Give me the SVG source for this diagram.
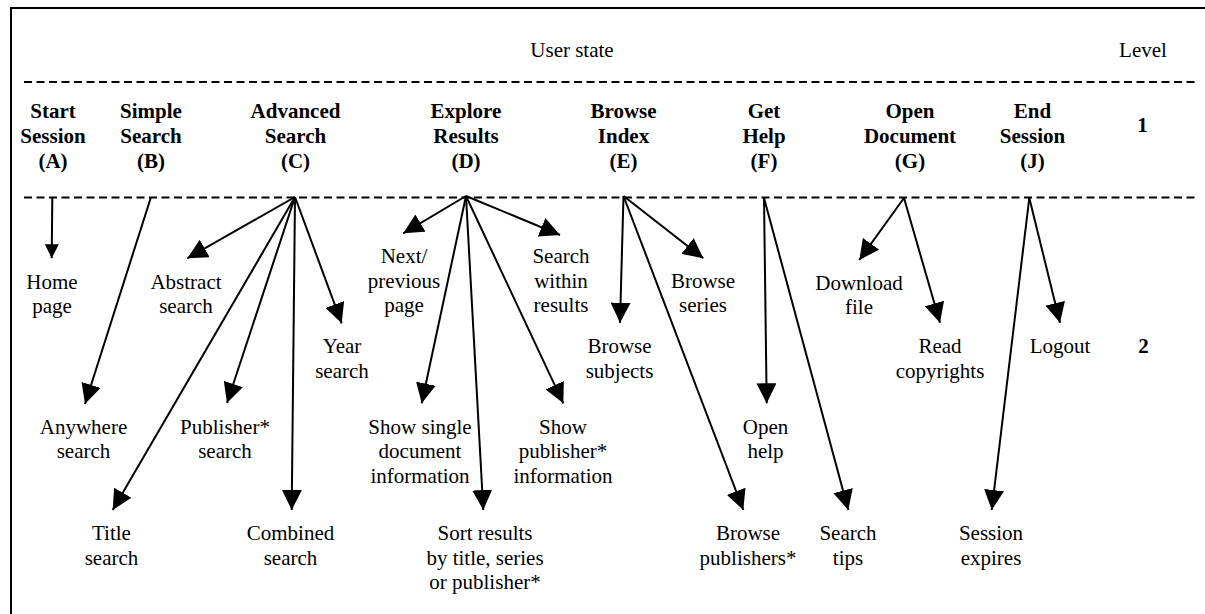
<svg xmlns="http://www.w3.org/2000/svg" width="1205" height="614" viewBox="0 0 1205 614">
<style>
text{font-family:'Liberation Serif','Tinos','DejaVu Serif','Times New Roman',Times,serif;font-size:21px;fill:#000;text-anchor:middle}
.b{font-weight:bold}
.frame{stroke:#000;stroke-width:2;fill:none}
.dash{stroke:#000;stroke-width:2;fill:none;stroke-dasharray:8 4.5}
.c line{stroke:#000;stroke-width:2;marker-end:url(#ah)}
.c line.s{marker-end:url(#ahs)}
</style>
<defs>
<marker id="ah" markerUnits="userSpaceOnUse" markerWidth="20" markerHeight="20" refX="20" refY="10" orient="auto">
<path d="M0,0 L20,10 L0,20 z" fill="#000"/>
</marker>
<marker id="ahs" markerUnits="userSpaceOnUse" markerWidth="14" markerHeight="14" refX="14" refY="7" orient="auto">
<path d="M0,0 L14,7 L0,14 z" fill="#000"/>
</marker>
</defs>
<rect width="1205" height="614" fill="#fff"/>
<g id="frame">
<path class="frame" d="M11,614 L11,8 L1205,8"/>
<line class="dash" x1="24" y1="82" x2="1197" y2="82"/>
<line class="dash" x1="24" y1="197.5" x2="1197" y2="197.5"/>
</g>
<g id="header">
<text x="572" y="57">User state</text>
<text x="1143" y="57">Level</text>
<text class="b" x="1142.5" y="132">1</text>
<text class="b" x="1143.5" y="353">2</text>
</g>
<g id="A"><text class="b" x="53" y="117.5">Start<tspan x="53" y="142.5">Session</tspan><tspan x="53" y="167.5">(A)</tspan></text></g>
<g id="B"><text class="b" x="151" y="117.5">Simple<tspan x="151" y="142.5">Search</tspan><tspan x="151" y="167.5">(B)</tspan></text></g>
<g id="C"><text class="b" x="295.5" y="117.5">Advanced<tspan x="295.5" y="142.5">Search</tspan><tspan x="295.5" y="167.5">(C)</tspan></text></g>
<g id="D"><text class="b" x="466" y="117.5">Explore<tspan x="466" y="142.5">Results</tspan><tspan x="466" y="167.5">(D)</tspan></text></g>
<g id="E"><text class="b" x="623.5" y="117.5">Browse<tspan x="623.5" y="142.5">Index</tspan><tspan x="623.5" y="167.5">(E)</tspan></text></g>
<g id="F"><text class="b" x="764" y="117.5">Get<tspan x="764" y="142.5">Help</tspan><tspan x="764" y="167.5">(F)</tspan></text></g>
<g id="G"><text class="b" x="910" y="117.5">Open<tspan x="910" y="142.5">Document</tspan><tspan x="910" y="167.5">(G)</tspan></text></g>
<g id="J"><text class="b" x="1032.5" y="117.5">End<tspan x="1032.5" y="142.5">Session</tspan><tspan x="1032.5" y="167.5">(J)</tspan></text></g>

<g id="home"><text x="52" y="289">Home<tspan x="52" y="313">page</tspan></text></g>
<g id="anywhere"><text x="83.5" y="433.5">Anywhere<tspan x="83.5" y="458">search</tspan></text></g>
<g id="abstract"><text x="186" y="288.5">Abstract<tspan x="186" y="313">search</tspan></text></g>
<g id="year"><text x="342" y="353">Year<tspan x="342" y="377.5">search</tspan></text></g>
<g id="publisher"><text x="225" y="433.5">Publisher*<tspan x="225" y="458">search</tspan></text></g>
<g id="title"><text x="111.5" y="540">Title<tspan x="111.5" y="564.5">search</tspan></text></g>
<g id="combined"><text x="290.5" y="540">Combined<tspan x="290.5" y="564.5">search</tspan></text></g>
<g id="nextprev"><text x="404" y="263">Next/<tspan x="404" y="287.5">previous</tspan><tspan x="404" y="312">page</tspan></text></g>
<g id="within"><text x="561" y="263">Search<tspan x="561" y="287.5">within</tspan><tspan x="561" y="312">results</tspan></text></g>
<g id="single"><text x="420" y="433.5">Show single<tspan x="420" y="458">document</tspan><tspan x="420" y="482.5">information</tspan></text></g>
<g id="showpub"><text x="563" y="433.5">Show<tspan x="563" y="458">publisher*</tspan><tspan x="563" y="482.5">information</tspan></text></g>
<g id="sort"><text x="485" y="540">Sort results<tspan x="485" y="564.5">by title, series</tspan><tspan x="485" y="589">or publisher*</tspan></text></g>
<g id="subjects"><text x="619.5" y="353">Browse<tspan x="619.5" y="377.5">subjects</tspan></text></g>
<g id="series"><text x="703" y="287.5">Browse<tspan x="703" y="312">series</tspan></text></g>
<g id="bpub"><text x="748" y="540">Browse<tspan x="748" y="564.5">publishers*</tspan></text></g>
<g id="openhelp"><text x="765.5" y="433.5">Open<tspan x="765.5" y="458">help</tspan></text></g>
<g id="tips"><text x="848" y="540">Search<tspan x="848" y="564.5">tips</tspan></text></g>
<g id="download"><text x="859" y="290">Download<tspan x="859" y="314">file</tspan></text></g>
<g id="copyrights"><text x="940" y="353">Read<tspan x="940" y="377.5">copyrights</tspan></text></g>
<g id="logout"><text x="1060" y="353">Logout</text></g>
<g id="expires"><text x="991" y="540">Session<tspan x="991" y="564.5">expires</tspan></text></g>

<g id="connectors" class="c">
<line class="s" x1="52.3" y1="198" x2="51.7" y2="258.3"/>
<line x1="150.7" y1="198" x2="85" y2="404"/>
<line x1="295" y1="197" x2="187.3" y2="258.3"/>
<line x1="295" y1="197" x2="112.7" y2="510"/>
<line x1="295" y1="197" x2="227" y2="403"/>
<line x1="295" y1="197" x2="291.7" y2="510"/>
<line x1="295" y1="197" x2="341.7" y2="323.3"/>
<line x1="466" y1="196" x2="403.3" y2="233.3"/>
<line x1="466" y1="196" x2="560" y2="235"/>
<line x1="466" y1="196" x2="421.7" y2="403.3"/>
<line x1="466" y1="196" x2="483.3" y2="510"/>
<line x1="466" y1="196" x2="563.3" y2="403.3"/>
<line x1="623.5" y1="196" x2="620" y2="322.7"/>
<line x1="623.5" y1="196" x2="703.3" y2="258.3"/>
<line x1="623.5" y1="196" x2="743.3" y2="510"/>
<line x1="764" y1="198" x2="766.7" y2="403.3"/>
<line x1="764" y1="198" x2="848.3" y2="510"/>
<line x1="904" y1="198" x2="859.3" y2="260"/>
<line x1="904" y1="198" x2="940" y2="322.7"/>
<line x1="1029.3" y1="198" x2="1060" y2="322.7"/>
<line x1="1029.3" y1="198" x2="991.7" y2="510"/>
</g>
</svg>
